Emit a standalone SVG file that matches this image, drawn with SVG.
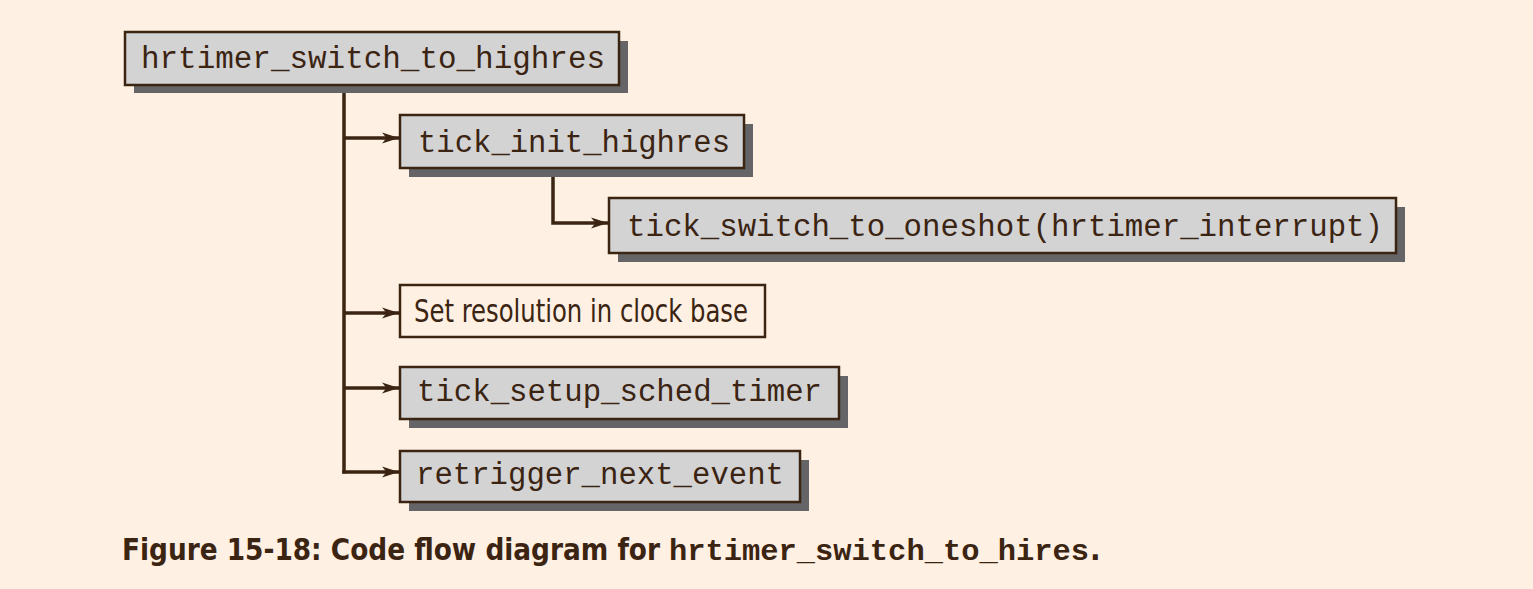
<svg xmlns="http://www.w3.org/2000/svg" width="1533" height="589" viewBox="0 0 1533 589">
<style>
.bg{fill:#fef0e2}
.box{fill:#d3d3d4;stroke:#3b2412;stroke-width:2.5}
.plain{fill:#fef0e2;stroke:#3b2412;stroke-width:2.5}
.sh{fill:#656466}
.mono{font-family:"Liberation Mono","Courier New",monospace;font-size:30.6px;fill:#3b2412}
.sans{font-family:"Liberation Sans Narrow","DejaVu Sans Condensed","Liberation Sans",sans-serif;font-size:32px;fill:#3b2412}
.cap{font-family:"Liberation Sans Narrow","DejaVu Sans Condensed","Liberation Sans",sans-serif;font-size:31px;font-weight:bold;fill:#3b2412}
.capm{font-family:"Liberation Mono","Courier New",monospace;font-size:30px;font-weight:bold;fill:#3b2412}
.ln{fill:none;stroke:#3b2412;stroke-width:3.5}
</style>
<defs>
<marker id="ah" markerWidth="18" markerHeight="14" refX="17" refY="7" orient="auto" markerUnits="userSpaceOnUse">
<path d="M0,1.5 L17,7 L0,12.5 L4.5,7 Z" fill="#3b2412"/>
</marker>
</defs>
<rect class="bg" x="0" y="0" width="1533" height="589"/>
<g id="connectors">
<path class="ln" d="M344,86 V473.5"/>
<path class="ln" d="M344,138 H399" marker-end="url(#ah)"/>
<path class="ln" d="M344,313 H399" marker-end="url(#ah)"/>
<path class="ln" d="M344,388 H399" marker-end="url(#ah)"/>
<path class="ln" d="M342.25,472 H399" marker-end="url(#ah)"/>
<path class="ln" d="M553,169 V223 H608" marker-end="url(#ah)"/>
</g>
<g id="n_hrtimer_switch_to_highres">
<rect class="sh" x="134" y="41" width="494" height="52"/>
<rect class="box" x="125" y="32" width="494" height="53"/>
<text class="mono" x="141" y="68" textLength="464" lengthAdjust="spacingAndGlyphs">hrtimer_switch_to_highres</text>
</g>
<g id="n_tick_init_highres">
<rect class="sh" x="409" y="124" width="344" height="53"/>
<rect class="box" x="400" y="115" width="344" height="53"/>
<text class="mono" x="418" y="152" textLength="312" lengthAdjust="spacingAndGlyphs">tick_init_highres</text>
</g>
<g id="n_tick_switch_to_oneshot">
<rect class="sh" x="618" y="207" width="787" height="55"/>
<rect class="box" x="609" y="198" width="787" height="55"/>
<text class="mono" x="627" y="236" textLength="756" lengthAdjust="spacingAndGlyphs">tick_switch_to_oneshot(hrtimer_interrupt)</text>
</g>
<g id="n_set_resolution">
<rect class="plain" x="400" y="285" width="365" height="52"/>
<text class="sans" x="414" y="322" textLength="334" lengthAdjust="spacingAndGlyphs">Set resolution in clock base</text>
</g>
<g id="n_tick_setup_sched_timer">
<rect class="sh" x="409" y="376" width="439" height="52"/>
<rect class="box" x="400" y="367" width="439" height="52"/>
<text class="mono" x="417" y="401" textLength="405" lengthAdjust="spacingAndGlyphs">tick_setup_sched_timer</text>
</g>
<g id="n_retrigger_next_event">
<rect class="sh" x="409" y="460" width="400" height="51"/>
<rect class="box" x="400" y="451" width="400" height="51"/>
<text class="mono" x="416" y="484" textLength="368" lengthAdjust="spacingAndGlyphs">retrigger_next_event</text>
</g>
<g id="caption">
<text class="cap" x="122" y="560" textLength="538" lengthAdjust="spacingAndGlyphs">Figure 15-18: Code flow diagram for</text>
<text class="capm" x="669" y="560" textLength="420" lengthAdjust="spacingAndGlyphs">hrtimer_switch_to_hires</text>
<text class="cap" x="1090" y="560">.</text>
</g>
</svg>
